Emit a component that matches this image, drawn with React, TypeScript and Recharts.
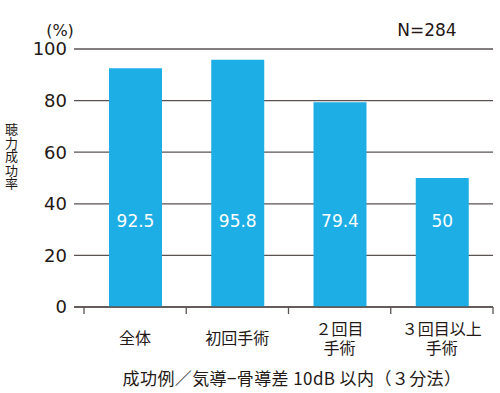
import React from 'react';
import { BarChart, Bar, XAxis, YAxis, CartesianGrid, LabelList } from 'recharts';

// Data
const categories = ['全体', '初回手術', '２回目\n手術', '３回目以上\n手術'];
const successRate = [92.5, 95.8, 79.4, 50];
const yTicks = [0, 20, 40, 60, 80, 100];

const chartData = categories.map((name, i) => ({ name, rate: successRate[i] }));

const FONT = '"DejaVu Sans", "Noto Sans CJK JP", sans-serif';
const JP_FONT = '"Noto Sans CJK JP", sans-serif';
const INK = '#231815';
const GRID = '#5a5352';
const BAR = '#1eaee6';

// plot area
const LEFT = 74;
const RIGHT = 493;
const PAD_LEFT = 10;
const BAND = (RIGHT - LEFT - PAD_LEFT) / categories.length;
const X_AXIS_H = 30;

const CategoryTick = (props: any) => {
  const { x, y, payload, index } = props;
  const lines = String(payload.value).split('\n');
  const left = x - BAND / 2;
  const isLast = index === categories.length - 1;
  return (
    <g>
      <line x1={left} x2={left} y1={y} y2={y + 7} stroke={GRID} strokeWidth={1.3} />
      {isLast && <line x1={left + BAND} x2={left + BAND} y1={y} y2={y + 7} stroke={GRID} strokeWidth={1.3} />}
      {lines.map((ln, i) => (
        <text
          key={i}
          x={x}
          y={y + (lines.length === 1 ? 30 : 21 + i * 19)}
          textAnchor="middle"
          dominantBaseline="central"
          fill={INK}
          fontSize={16}
          fontFamily={JP_FONT}
        >
          {ln}
        </text>
      ))}
    </g>
  );
};

const InsideLabel = (props: any) => {
  const { x, y, width, height, value } = props;
  return (
    <text
      x={x + width / 2}
      y={y + height - 86}
      textAnchor="middle"
      dominantBaseline="central"
      fill="#ffffff"
      fontSize={17}
      fontFamily={FONT}
    >
      {value}
    </text>
  );
};

export default function App() {
  return (
    <div style={{ position: 'absolute', left: 0, top: 0, width: 500, height: 393, background: '#fff' }}>
      <BarChart
        width={500}
        height={393}
        data={chartData}
        margin={{ top: 49, right: 7, bottom: 86 - X_AXIS_H, left: 0 }}
      >
        <CartesianGrid vertical={false} stroke={GRID} strokeWidth={1.3} />
        <XAxis
          dataKey="name"
          height={X_AXIS_H}
          axisLine={{ stroke: GRID, strokeWidth: 1.3 }}
          tickLine={false}
          tickSize={0}
          tickMargin={0}
          padding={{ left: PAD_LEFT, right: 0 }}
          tick={<CategoryTick />}
          interval={0}
        />
        <YAxis
          width={LEFT}
          domain={[0, 100]}
          ticks={yTicks}
          axisLine={false}
          tickLine={false}
          tickSize={0}
          tickMargin={7}
          tick={{ fill: INK, fontSize: 18, fontFamily: FONT }}
        />
        <Bar dataKey="rate" fill={BAR} barSize={53} isAnimationActive={false}>
          <LabelList dataKey="rate" content={<InsideLabel />} />
        </Bar>
        <text x={60} y={30} textAnchor="middle" dominantBaseline="central" fill={INK} fontSize={16} fontFamily={FONT}>
          (%)
        </text>
        <text x={427} y={30} textAnchor="middle" dominantBaseline="central" fill={INK} fontSize={17} fontFamily={FONT}>
          N=284
        </text>
        <text x={292} y={377} textAnchor="middle" dominantBaseline="central" fill={INK} fontSize={17} letterSpacing={0.4} fontFamily={JP_FONT}>
          成功例／気導−骨導差 10dB 以内（３分法）
        </text>
      </BarChart>
      {/* vertical axis title */}
      <div
        style={{
          position: 'absolute',
          left: 3,
          top: 123,
          fontFamily: JP_FONT,
          fontSize: 13,
          lineHeight: '16px',
          letterSpacing: '0.4px',
          color: INK,
          writingMode: 'vertical-rl',
          textOrientation: 'upright',
        }}
      >
        聴力成功率
      </div>
    </div>
  );
}
